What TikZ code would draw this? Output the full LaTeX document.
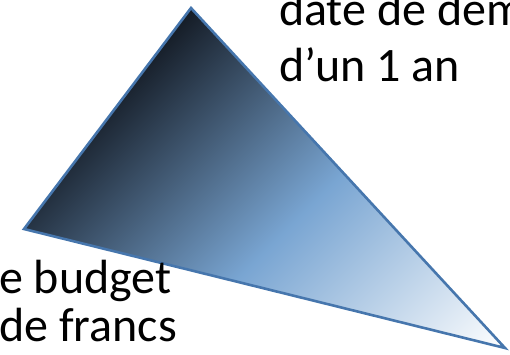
\documentclass[tikz,border=0pt]{standalone}
\usepackage{fontspec}
\setmainfont{Carlito}
\definecolor{wedgedark}{RGB}{14,19,27}
\definecolor{wedgeblue}{RGB}{121,165,210}
\definecolor{wedgeline}{RGB}{70,118,173}
\tikzset{lbl/.style={inner sep=0pt, align=left, font=\fontsize{48}{48}\selectfont}}
\begin{document}
\begin{tikzpicture}[x=1pt,y=-1pt]
\useasboundingbox (0,0) rectangle (510,354);
\coordinate (top) at (191,8);
\coordinate (lft) at (24,229);
\coordinate (rgt) at (505,348);
\coordinate (mid) at (264,252);
% shaded wedge
\begin{scope}
\clip (top) -- (lft) -- (rgt) -- cycle;
\begin{scope}[transform canvas={rotate around={-45:(mid)}}]
\shade[left color=wedgedark, right color=white, middle color=wedgeblue] (mid) ++(-238,-420) rectangle ++(476,840);
\end{scope}
\end{scope}
\draw[wedgeline, line width=2.6pt] (top) -- (lft) -- (rgt) -- cycle;
% labels
\node[lbl, anchor=base west] (debut) at (279,25) {date de dem};
\node[lbl, anchor=base west] (duree) at (279,81) {d’un 1 an};
\node[lbl, anchor=base west] (budget) at (-1,293) {e budget};
\node[lbl, anchor=base west] (francs) at (-1,341) {de francs};
\end{tikzpicture}
\end{document}
